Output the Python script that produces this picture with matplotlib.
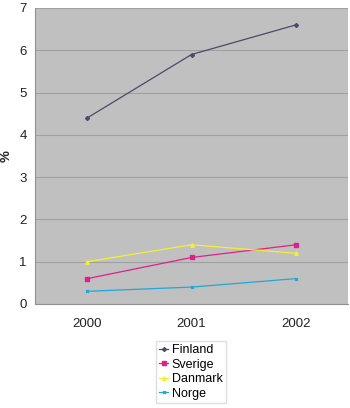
import matplotlib
matplotlib.use("Agg")
import matplotlib.pyplot as plt

# Share of population, per country and year
years = ["2000", "2001", "2002"]
finland = [4.4, 5.9, 6.6]
sverige = [0.6, 1.1, 1.4]
danmark = [1.0, 1.4, 1.2]
norge = [0.3, 0.4, 0.6]

plt.rcParams["font.family"] = ["Liberation Sans", "DejaVu Sans"]

fig = plt.figure(figsize=(3.5, 4.08), dpi=100)
ax = fig.add_axes([35 / 350, 1 - 304 / 408, 313 / 350, 296 / 408])
ax.set_facecolor("#c0c0c0")

x = range(len(years))
ax.plot(x, finland, color="#4a4a6a", lw=0.9, marker="D", ms=2, label="Finland")
ax.plot(x, sverige, color="#e0208a", lw=0.9, marker="s", ms=2.5, label="Sverige")
ax.plot(x, danmark, color="#f5f030", lw=0.9, marker="^", ms=2.5, label="Danmark")
ax.plot(x, norge, color="#20a8d8", lw=0.9, marker="x", ms=2, label="Norge")

ax.set_xlim(-0.5, 2.5)
ax.set_ylim(0, 7)
ax.set_xticks(list(x))
ax.set_xticklabels(years)
ax.set_yticks(range(8))
ax.yaxis.grid(True, color="#a0a0a0", lw=0.8)
ax.set_axisbelow(True)
ax.tick_params(labelsize=9.5, length=0, colors="#222222")
ax.tick_params(axis="x", pad=10)
ax.tick_params(axis="y", pad=6)
for side in ["top", "right"]:
    ax.spines[side].set_visible(False)
for side in ["left", "bottom"]:
    ax.spines[side].set_color("#909090")

fig.text(7 / 350, 1 - 156 / 408, "%", rotation=90, fontsize=9.5, fontweight="bold",
         color="#222222", ha="center", va="center")

leg = ax.legend(loc="upper center", bbox_to_anchor=(0.498, -0.125), fontsize=9,
                frameon=True, fancybox=False, edgecolor="#d8d8d8",
                handlelength=0.7, handletextpad=0.3, labelspacing=0.2,
                borderpad=0.25, borderaxespad=0)

fig.savefig("out.png", dpi=100)
